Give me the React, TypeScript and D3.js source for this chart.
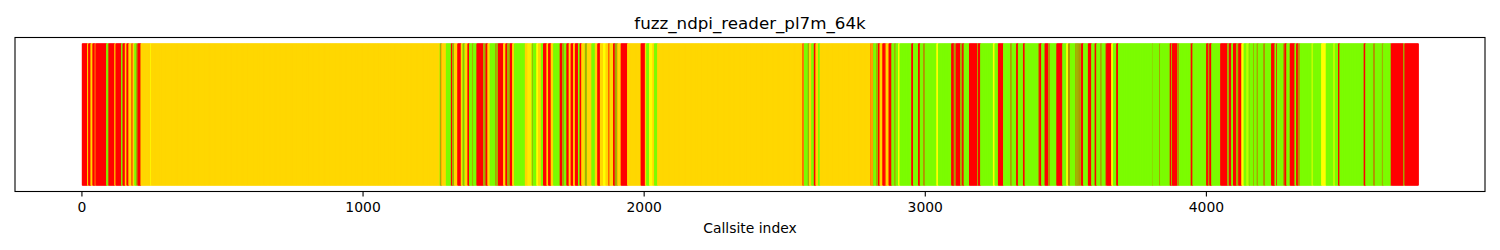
import React from "react";
import * as d3 from "d3";

const TITLE = "fuzz_ndpi_reader_pl7m_64k";
const X_LABEL = "Callsite index";
const N_CALLSITES = 4754;
const X_TICKS = [0, 1000, 2000, 3000, 4000];

// Run-length encoded status per callsite: a run starts at runStarts[k] and
// repeats the pattern runCodes[k] (R=red, O=gold, G=lawngreen, Y=yellow)
const runStarts = [
  0, 19, 23, 31, 38, 46, 49, 87, 91, 95, 116, 120, 140, 145, 153, 159, 166, 176, 181, 187, 193, 199, 209, 244, 246,
  1273, 1279, 1295, 1313, 1318, 1324, 1336, 1348, 1354, 1362, 1372, 1378, 1386, 1392, 1404, 1428, 1436, 1443, 1451,
  1469, 1481, 1499, 1507, 1514, 1522, 1531, 1538, 1576, 1585, 1600, 1605, 1617, 1623, 1633, 1641, 1653, 1659, 1668,
  1677, 1700, 1709, 1716, 1724, 1732, 1739, 1748, 1754, 1765, 1771, 1777, 1789, 1797, 1813, 1825, 1834, 1843, 1854,
  1863, 1872, 1878, 1890, 1896, 1905, 1917, 1940, 1988, 2003, 2008, 2018, 2030, 2036, 2047,
  2563, 2569, 2581, 2587, 2595, 2604, 2610, 2619, 2625, 2803, 2815, 2824, 2832, 2838, 2848, 2856, 2862, 2870,
  2880, 2888, 2895, 2904, 2909, 2951, 2957, 2975, 2981, 2992, 2998, 3040, 3046, 3093, 3102, 3109, 3125, 3132, 3137,
  3156, 3185, 3188, 3196, 3241, 3247, 3259, 3277, 3301, 3307, 3324, 3330, 3348, 3354, 3401, 3407, 3413, 3425, 3437,
  3443, 3467, 3488, 3502, 3508, 3514, 3532, 3556, 3562, 3579, 3591, 3603, 3609, 3621, 3627, 3639, 3645, 3662, 3668,
  3680, 3686, 3805, 3808, 3832, 3837, 3870, 3876, 3879, 3896, 3903, 3941, 3947, 3951, 4000, 4006, 4012, 4018, 4050,
  4075, 4081, 4089, 4095, 4107, 4114, 4125, 4133, 4142, 4150, 4153, 4165, 4168, 4178, 4184, 4202, 4208, 4231, 4243,
  4249, 4251, 4273, 4279, 4285, 4297, 4314, 4320, 4326, 4332, 4374, 4380, 4409, 4425, 4451, 4457, 4469, 4474, 4560,
  4566, 4593, 4599, 4623, 4629, 4652, 4658, 4700, 4706,
];
const runCodes = [
  "R", "O", "R", "O", "R", "OR", "R", "G", "GGR", "R", "O", "R", "G", "R", "O", "R", "O", "RO", "O", "G", "GGR", "R", "O", "Y", "O",
  "GGR", "O", "G", "R", "GGR", "O", "R", "O", "GGR", "O", "R", "G", "GGR", "G", "R", "GGR", "R", "O", "G",
  "GGR", "R", "O", "R", "GGR", "R", "O", "G", "O", "OY", "GGR", "G", "Y", "O", "G", "R", "O", "R", "O",
  "G", "R", "GGR", "G", "R", "O", "R", "O", "R", "G", "R", "O", "GGR", "O", "G", "O", "R", "O", "Y",
  "O", "RO", "O", "R", "GGR", "O", "R", "O", "R", "O", "G", "Y", "O", "G", "O",
  "RO", "G", "GGR", "O", "G", "R", "O", "G", "O", "OOR", "G", "GGR", "R", "O", "R", "RO", "O", "R",
  "G", "GGR", "G", "Y", "G", "R", "G", "R", "G", "GGR", "G", "Y", "G", "R", "GGR", "R", "GGR", "R", "G",
  "R", "GGR", "R", "G", "Y", "G", "R", "G", "GGR", "G", "R", "G", "R", "G", "GGR", "R", "G", "R", "GGR",
  "G", "R", "G", "Y", "GGR", "G", "GGR", "R", "G", "R", "G", "R", "G", "GGR", "G", "GGR", "R", "Y", "G",
  "R", "G", "GGR", "G", "GGR", "G", "R", "GGR", "R", "GGR", "G", "GGR", "R", "G", "R", "GGR", "R", "G", "R",
  "GGR", "R", "G", "R", "GGR", "R", "Y", "G", "GY", "GGR", "G", "GGR", "G", "GGR", "G", "GGR", "G", "R", "G",
  "R", "G", "GGR", "R", "G", "R", "G", "R", "GGR", "G", "GY", "G", "Y", "G", "GY", "G", "R", "G", "R",
  "G", "GGR", "G", "GGR", "G", "GGR", "R", "GGR", "R",
];

const COLOR_MAP: Record<string, string> = {
  R: "#ff0000",
  O: "#ffd700",
  G: "#7cfc00",
  Y: "#ffff00",
};

function buildBars() {
  const bars: { i: number; color: string }[] = [];
  for (let k = 0; k < runStarts.length; k++) {
    const s = runStarts[k];
    const e = k + 1 < runStarts.length ? runStarts[k + 1] : N_CALLSITES;
    const code = runCodes[k];
    for (let i = s; i < e; i++) {
      bars.push({ i, color: COLOR_MAP[code[(i - s) % code.length]] });
    }
  }
  return bars;
}

export default function App() {
  const W = 1500;
  const H = 250;
  const left = 15;
  const right = 1485;
  const top = 37.5;
  const bottom = 191.5;

  const lo = -0.4;
  const hi = N_CALLSITES - 1 + 0.4;
  const m = 0.05 * (hi - lo);
  const x = d3.scaleLinear().domain([lo - m, hi + m]).range([left, right]);
  const y = d3.scaleLinear().domain([-0.043, 1.043]).range([bottom, top]);

  const bars = buildBars();
  const step = x(1) - x(0);
  const font = "DejaVu Sans, sans-serif";

  return (
    <svg
      width={W}
      height={H}
      style={{ position: "absolute", left: 0, top: 0, background: "#fff" }}
    >
      <g>
        {bars.map((b) => (
          <rect
            key={b.i}
            x={x(b.i - 0.5)}
            y={y(1)}
            width={b.i === N_CALLSITES - 1 ? step : step + 0.8}
            height={y(0) - y(1)}
            fill={b.color}
          />
        ))}
      </g>
      <rect
        x={left}
        y={top}
        width={right - left}
        height={bottom - top}
        fill="none"
        stroke="#000"
        strokeWidth={1.1}
      />
      {X_TICKS.map((t) => (
        <g key={t} transform={`translate(${x(t)},${bottom})`}>
          <line y1={0} y2={4.9} stroke="#000" strokeWidth={1.1} />
          <text
            y={20.8}
            textAnchor="middle"
            fontFamily={font}
            fontSize={13.9}
            fill="#000"
          >
            {t}
          </text>
        </g>
      ))}
      <text
        x={(left + right) / 2}
        y={232.5}
        textAnchor="middle"
        fontFamily={font}
        fontSize={13.9}
        fill="#000"
      >
        {X_LABEL}
      </text>
      <text
        x={(left + right) / 2}
        y={29}
        textAnchor="middle"
        fontFamily={font}
        fontSize={16.7}
        fill="#000"
      >
        {TITLE}
      </text>
    </svg>
  );
}
